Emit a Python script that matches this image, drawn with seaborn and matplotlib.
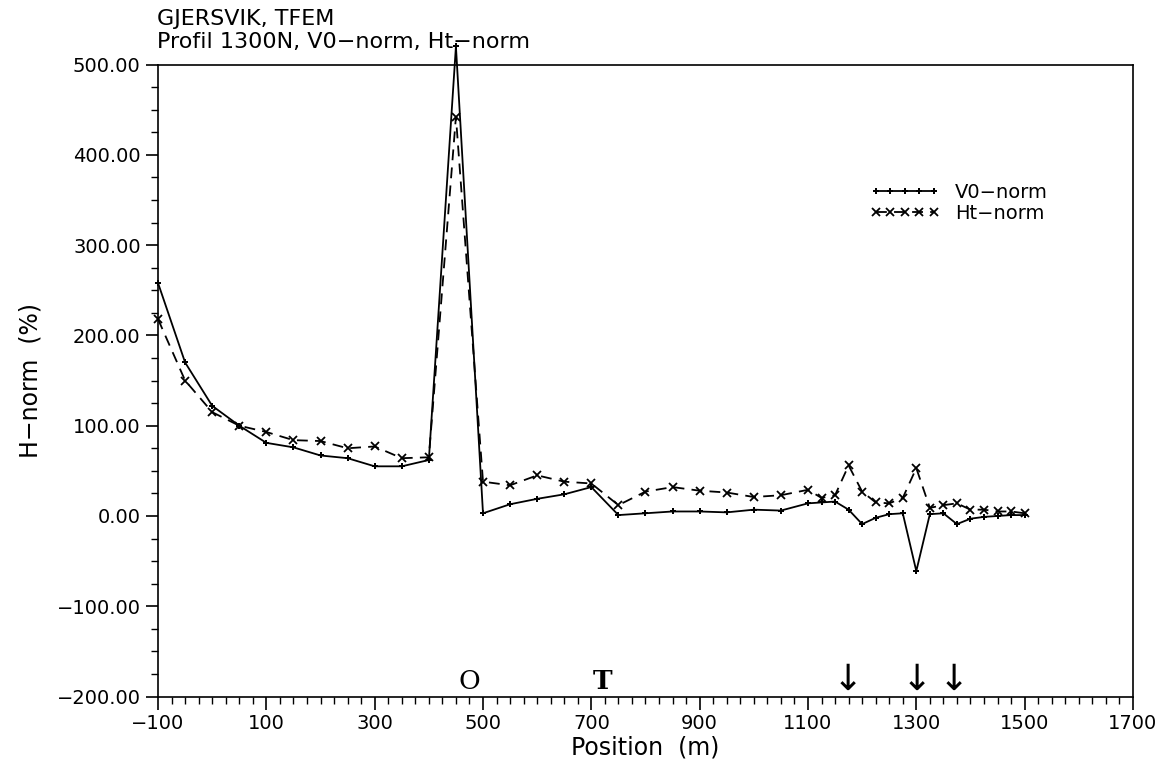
import numpy as np
import pandas as pd
from matplotlib import pyplot as plt
from matplotlib.ticker import MultipleLocator, FuncFormatter
import seaborn as sns

# profile positions (m)
position = [-100, -50, 0, 50, 100, 150, 200, 250, 300, 350, 400, 450, 500,
            550, 600, 650, 700, 750, 800, 850, 900, 950, 1000, 1050, 1100,
            1125, 1150, 1175, 1200, 1225, 1250, 1275, 1300, 1325, 1350, 1375,
            1400, 1425, 1450, 1475, 1500]

v0_norm = [258, 170, 122, 100, 81, 76, 67, 64, 55, 55, 62, 520, 3,
           13, 19, 24, 32, 1, 3, 5, 5, 4, 7, 6, 14,
           15, 16, 7, -9, -2, 2, 3, -61, 2, 3, -9,
           -3, -1, 0, 1, 1]

ht_norm = [218, 150, 115, 100, 93, 84, 83, 75, 77, 64, 65, 442, 38,
           34, 45, 38, 36, 12, 27, 32, 28, 26, 21, 23, 29,
           20, 23, 56, 27, 15, 14, 20, 53, 9, 12, 14,
           7, 7, 5, 5, 3]

x_ticks = [-100, 100, 300, 500, 700, 900, 1100, 1300, 1500, 1700]

# markers along the bottom of the profile
marker_labels = ['O', 'T', '↓', '↓', '↓']
marker_pos = [475, 720, 1173, 1300, 1370]

sns.set_theme(style='ticks')
plt.rcParams['font.family'] = ['DejaVu Sans']
plt.rcParams['text.color'] = 'black'
plt.rcParams['axes.labelcolor'] = 'black'
plt.rcParams['xtick.color'] = 'black'
plt.rcParams['ytick.color'] = 'black'

df = pd.DataFrame({'position': position, 'V0−norm': v0_norm, 'Ht−norm': ht_norm})

fig = plt.figure(figsize=(11.62, 7.68), dpi=100)
ax = fig.add_axes([0.136, 0.093, 0.839, 0.823])

sns.lineplot(data=df, x='position', y='V0−norm', ax=ax, color='black', lw=1.3,
             marker='P', markersize=5, markeredgewidth=0, label='V0−norm', clip_on=False)
sns.lineplot(data=df, x='position', y='Ht−norm', ax=ax, color='black', lw=1.3,
             linestyle=(0, (6, 4)), marker='x', markersize=6, markeredgewidth=1.3,
             markeredgecolor='black', label='Ht−norm', clip_on=False)

ax.set_xlim(-100, 1700)
ax.set_ylim(-200, 500)
ax.set_xticks(x_ticks)
ax.xaxis.set_minor_locator(MultipleLocator(25))
ax.yaxis.set_major_locator(MultipleLocator(100))
ax.yaxis.set_minor_locator(MultipleLocator(25))
ax.yaxis.set_major_formatter(FuncFormatter(lambda v, p: f'{v:.2f}'.replace('-', '−')))
ax.xaxis.set_major_formatter(FuncFormatter(lambda v, p: f'{v:.0f}'.replace('-', '−')))
ax.tick_params(which='major', direction='out', length=9, width=1.2, labelsize=14)
ax.tick_params(which='minor', direction='out', length=5, width=1.0)
for s in ax.spines.values():
    s.set_linewidth(1.2)
    s.set_color('black')

ax.set_xlabel('Position  (m)', fontsize=17, labelpad=2)
ax.set_ylabel('H−norm  (%)', fontsize=17, labelpad=10)

for lab, xp in zip(marker_labels, marker_pos):
    if lab == '↓':
        ax.text(xp, -200, lab, ha='center', va='bottom', fontsize=26)
    else:
        ax.text(xp, -197, lab, ha='center', va='bottom', fontsize=19,
                family='DejaVu Serif', weight='bold' if lab == 'T' else 'normal')

leg = ax.legend(loc='upper left', bbox_to_anchor=(0.712, 0.84), frameon=False,
                numpoints=5, handlelength=3.6, fontsize=14, labelspacing=0.1)

fig.text(0.135, 0.988, 'GJERSVIK, TFEM\nProfil 1300N, V0−norm, Ht−norm',
         ha='left', va='top', fontsize=16, linespacing=1.15)

plt.savefig('out.png', dpi=100)
